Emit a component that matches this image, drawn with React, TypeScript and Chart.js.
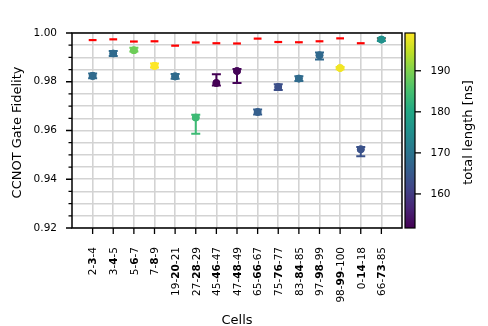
import React, { useEffect, useRef } from 'react';
import { Chart, registerables } from 'chart.js';
Chart.register(...registerables);

const cells = ['2-3-4', '3-4-5', '5-6-7', '7-8-9', '19-20-21', '27-28-29', '45-46-47', '47-48-49', '65-66-67', '75-76-77', '83-84-85', '97-98-99', '98-99-100', '0-14-18', '66-73-85'];
const fidelity = [0.9824, 0.9916, 0.9929, 0.9865, 0.9822, 0.9653, 0.9795, 0.9844, 0.9676, 0.9778, 0.9813, 0.9909, 0.9856, 0.9523, 0.9973];
const errHigh = [0.001, 0.001, 0.001, 0.001, 0.001, 0.0012, 0.0036, 0.0008, 0.001, 0.0012, 0.001, 0.0011, 0.0005, 0.0009, 0.0006];
const errLow = [0.001, 0.001, 0.0005, 0.0007, 0.001, 0.0066, 0.001, 0.0049, 0.001, 0.0012, 0.001, 0.0018, 0.0005, 0.0029, 0.0006];
const targetFidelity = [0.9971, 0.9974, 0.9965, 0.9966, 0.9948, 0.9961, 0.9958, 0.9957, 0.9977, 0.9963, 0.9962, 0.9966, 0.9978, 0.9958, 0.9976];
const totalLength = [168.1, 168.0, 188.6, 199.2, 168.3, 184.0, 151.7, 152.3, 166.0, 163.1, 168.3, 167.9, 198.3, 163.6, 175.5];
const yTickLabels = ['0.92', '0.94', '0.96', '0.98', '1.00'];
const colorbarTicks = [160, 170, 180, 190];

const FONT = '"DejaVu Sans", sans-serif';
const VIRIDIS = ['#440154', '#482475', '#414487', '#355f8d', '#2a788e', '#21918c', '#22a884', '#44bf70', '#7ad151', '#bddf26', '#fde725'];
const cMin = Math.min(...totalLength);
const cMax = Math.max(...totalLength);

function hexToRgb(h: string) {
  return [parseInt(h.slice(1, 3), 16), parseInt(h.slice(3, 5), 16), parseInt(h.slice(5, 7), 16)];
}
function viridis(t: number) {
  t = Math.max(0, Math.min(1, t));
  const p = t * (VIRIDIS.length - 1);
  const i = Math.min(Math.floor(p), VIRIDIS.length - 2);
  const f = p - i;
  const a = hexToRgb(VIRIDIS[i]);
  const b = hexToRgb(VIRIDIS[i + 1]);
  const c = a.map((v, k) => Math.round(v + (b[k] - v) * f));
  return `rgb(${c[0]},${c[1]},${c[2]})`;
}
const colors = totalLength.map((v) => viridis((v - cMin) / (cMax - cMin)));

const overlay = {
  id: 'overlay',
  beforeDatasetsDraw(chart: any) {
    const { ctx } = chart;
    const xs = chart.scales.x;
    const ys = chart.scales.y;
    ctx.save();
    fidelity.forEach((f, i) => {
      const x = xs.getPixelForValue(i);
      const yTop = ys.getPixelForValue(f + errHigh[i]);
      const yBot = ys.getPixelForValue(f - errLow[i]);
      ctx.strokeStyle = colors[i];
      ctx.lineWidth = 2;
      ctx.beginPath();
      ctx.moveTo(x, yTop);
      ctx.lineTo(x, yBot);
      ctx.moveTo(x - 4.5, yTop);
      ctx.lineTo(x + 4.5, yTop);
      ctx.moveTo(x - 4.5, yBot);
      ctx.lineTo(x + 4.5, yBot);
      ctx.stroke();
    });
    ctx.restore();
  },
  afterDraw(chart: any) {
    const { ctx, chartArea } = chart;
    const xs = chart.scales.x;
    const ys = chart.scales.y;
    const { left, right, top, bottom } = chartArea;
    ctx.save();
    // markers drawn on top of error bars
    fidelity.forEach((f, i) => {
      ctx.fillStyle = colors[i];
      ctx.beginPath();
      ctx.arc(xs.getPixelForValue(i), ys.getPixelForValue(f), 3.8, 0, Math.PI * 2);
      ctx.fill();
    });
    // spines
    ctx.strokeStyle = '#000';
    ctx.lineWidth = 1.5;
    ctx.strokeRect(left, top, right - left, bottom - top);
    // y ticks
    ctx.lineWidth = 1.3;
    ctx.beginPath();
    for (let k = 0; k <= 16; k++) {
      const v = 0.92 + k * 0.005;
      const y = ys.getPixelForValue(v);
      const len = k % 4 === 0 ? 6 : 3.5;
      ctx.moveTo(left, y);
      ctx.lineTo(left - len, y);
    }
    // x ticks
    cells.forEach((_, i) => {
      const x = xs.getPixelForValue(i);
      ctx.moveTo(x, bottom);
      ctx.lineTo(x, bottom + 6);
    });
    ctx.stroke();
    // y labels
    ctx.fillStyle = '#000';
    ctx.font = `10.5px ${FONT}`;
    ctx.textAlign = 'right';
    ctx.textBaseline = 'middle';
    yTickLabels.forEach((l) => {
      ctx.fillText(l, 57, ys.getPixelForValue(parseFloat(l)));
    });
    // x labels (rotated, middle number bold)
    const normal = `10.5px ${FONT}`;
    const bold = `bold 10.5px ${FONT}`;
    cells.forEach((c, i) => {
      const parts = c.split('-');
      const segs = [
        { t: parts[0] + '-', f: normal },
        { t: parts[1], f: bold },
        { t: '-' + parts[2], f: normal },
      ];
      let total = 0;
      segs.forEach((s) => {
        ctx.font = s.f;
        total += ctx.measureText(s.t).width;
      });
      const x = xs.getPixelForValue(i);
      ctx.save();
      ctx.translate(x + 3.8, 247);
      ctx.rotate(-Math.PI / 2);
      ctx.textAlign = 'left';
      ctx.textBaseline = 'alphabetic';
      let pos = -total;
      segs.forEach((s) => {
        ctx.font = s.f;
        ctx.fillText(s.t, pos, 0);
        pos += ctx.measureText(s.t).width;
      });
      ctx.restore();
    });
    // axis titles
    ctx.font = `13px ${FONT}`;
    ctx.textAlign = 'center';
    ctx.textBaseline = 'alphabetic';
    ctx.fillText('Cells', (left + right) / 2, 323.5);
    ctx.save();
    ctx.translate(20.7, 132.5);
    ctx.rotate(-Math.PI / 2);
    ctx.fillText('CCNOT Gate Fidelity', 0, 0);
    ctx.restore();
    // colorbar
    const cbL = 405;
    const cbR = 415;
    const grad = ctx.createLinearGradient(0, bottom, 0, top);
    VIRIDIS.forEach((c, k) => grad.addColorStop(k / (VIRIDIS.length - 1), c));
    ctx.fillStyle = grad;
    ctx.fillRect(cbL, top, cbR - cbL, bottom - top);
    ctx.strokeStyle = '#000';
    ctx.lineWidth = 1.2;
    ctx.strokeRect(cbL, top, cbR - cbL, bottom - top);
    ctx.fillStyle = '#000';
    ctx.font = `10.5px ${FONT}`;
    ctx.textAlign = 'left';
    ctx.textBaseline = 'middle';
    ctx.lineWidth = 1.3;
    colorbarTicks.forEach((t) => {
      const y = bottom - ((t - cMin) / (cMax - cMin)) * (bottom - top);
      ctx.beginPath();
      ctx.moveTo(cbR, y);
      ctx.lineTo(cbR + 6, y);
      ctx.stroke();
      ctx.fillText(String(t), 430.5, y);
    });
    ctx.font = `13px ${FONT}`;
    ctx.textAlign = 'center';
    ctx.textBaseline = 'alphabetic';
    ctx.save();
    ctx.translate(471.7, 132.5);
    ctx.rotate(-Math.PI / 2);
    ctx.fillText('total length [ns]', 0, 0);
    ctx.restore();
    ctx.restore();
  },
};

export default function App() {
  const ref = useRef<HTMLCanvasElement>(null);
  useEffect(() => {
    if (!ref.current) return;
    const chart = new Chart(ref.current, {
      type: 'scatter',
      data: {
        datasets: [
          {
            label: 'Fidelity',
            data: fidelity.map((v, i) => ({ x: i, y: v })),
            pointStyle: 'circle',
            pointRadius: 3.8,
            pointBorderWidth: 0,
            pointBorderColor: colors,
            pointBackgroundColor: colors,
            pointHoverRadius: 3.8,
          },
          {
            label: 'Target',
            data: targetFidelity.map((v, i) => ({ x: i, y: v })),
            pointStyle: 'line',
            pointRadius: 3.9,
            pointBorderWidth: 2.2,
            pointBorderColor: '#ff0000',
            pointBackgroundColor: '#ff0000',
          },
        ],
      },
      options: {
        animation: false,
        responsive: false,
        devicePixelRatio: 1,
        layout: { padding: { top: 33, right: 86, left: 0, bottom: 0 } },
        plugins: { legend: { display: false }, tooltip: { enabled: false } },
        scales: {
          x: {
            type: 'linear',
            min: -1,
            max: 15,
            afterBuildTicks: (s: any) => {
              s.ticks = cells.map((_, i) => ({ value: i }));
            },
            afterFit: (s: any) => {
              s.height = 98;
            },
            ticks: { display: false },
            grid: { color: '#d3d3d3', lineWidth: 1.6, drawTicks: false },
            border: { display: false },
          },
          y: {
            type: 'linear',
            min: 0.92,
            max: 1.0,
            afterBuildTicks: (s: any) => {
              const t = [];
              for (let k = 0; k <= 16; k++) t.push({ value: 0.92 + k * 0.005 });
              s.ticks = t;
            },
            afterFit: (s: any) => {
              s.width = 72;
            },
            ticks: { display: false },
            grid: { color: '#d3d3d3', lineWidth: 1.6, drawTicks: false },
            border: { display: false },
          },
        },
      },
      plugins: [overlay],
    });
    return () => chart.destroy();
  }, []);
  return (
    <div style={{ position: 'fixed', left: 0, top: 0, width: 488, height: 326, background: '#fff' }}>
      <canvas ref={ref} width={488} height={326} style={{ width: 488, height: 326 }} />
    </div>
  );
}
